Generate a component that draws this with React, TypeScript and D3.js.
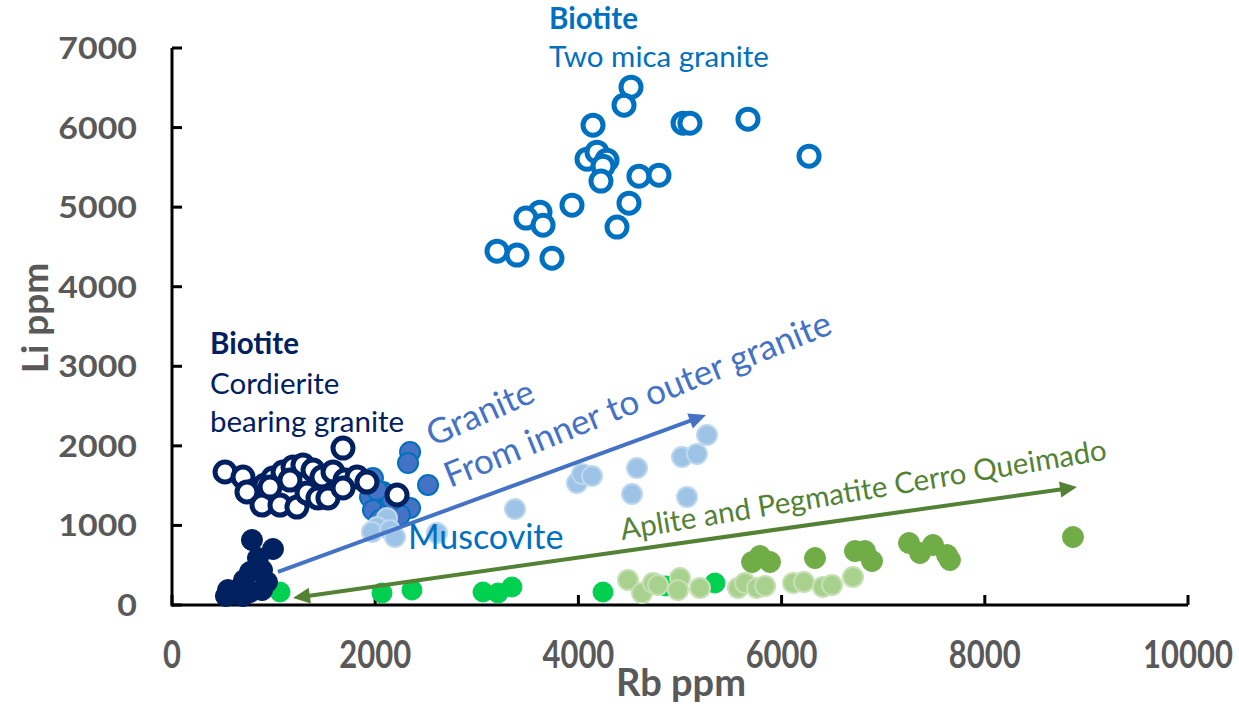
import React from "react";
import * as d3 from "d3";

// Rb (ppm), Li (ppm) pairs per mineral group
const biotiteTwoMica: [number, number][] = [
  [4518, 6508], [4449, 6281], [4144, 6030], [5030, 6055], [5098, 6055],
  [5669, 6106], [6270, 5641], [4085, 5603], [4183, 5691], [4281, 5590],
  [4242, 5515], [4222, 5327], [4596, 5389], [4793, 5402], [3937, 5025],
  [4498, 5050], [4380, 4749], [3622, 4937], [3484, 4862], [3652, 4774],
  [3199, 4447], [3396, 4397], [3740, 4359],
];

const biotiteCordierite: [number, number][] = [
  [1683, 1972], [522, 1671], [699, 1608], [817, 1445], [915, 1508],
  [994, 1595], [1093, 1671], [1191, 1734], [1289, 1759], [1388, 1696],
  [1476, 1608], [1585, 1671], [1703, 1570], [1821, 1608], [1919, 1545],
  [738, 1420], [886, 1256], [1063, 1256], [1230, 1231], [1329, 1407],
  [1437, 1344], [1535, 1344], [1683, 1470], [2215, 1382], [965, 1482],
  [1161, 1570],
];

const muscoviteCordierite: [number, number][] = [
  [787, 817], [994, 704], [846, 590], [886, 440], [768, 415],
  [709, 314], [935, 289], [669, 214], [551, 188], [620, 138],
  [768, 163], [886, 188], [531, 113], [699, 113],
];

const muscoviteInnerGranite: [number, number][] = [
  [2343, 1922], [2323, 1784], [2520, 1508], [1978, 1595], [1949, 1357],
  [2077, 1420], [2244, 1294], [2343, 1219], [1978, 1193], [2146, 1193],
  [2047, 1068], [2244, 1131], [2165, 1319], [2018, 1445],
];

const muscoviteOuterGranite: [number, number][] = [
  [2116, 1093], [2018, 980], [1968, 917], [2146, 942], [2195, 854],
  [2608, 905], [3376, 1206], [3986, 1533], [4035, 1646], [4134, 1621],
  [4577, 1721], [4528, 1394], [5020, 1859], [5167, 1897], [5266, 2136],
  [5069, 1357],
];

const apliteA: [number, number][] = [
  [1063, 163], [2067, 151], [2362, 188], [3061, 163], [3209, 151],
  [3346, 226], [4242, 163], [4862, 239], [5344, 276],
];

const apliteB: [number, number][] = [
  [4488, 314], [4626, 151], [4734, 276], [4783, 251], [5000, 339],
  [4980, 188], [5197, 214], [5571, 214], [5640, 276], [5758, 214],
  [5837, 239], [6112, 276], [6220, 289], [6407, 226], [6496, 251],
  [6703, 352],
];

const pegmatite: [number, number][] = [
  [5709, 540], [5787, 616], [5886, 540], [6329, 590], [6722, 678],
  [6821, 678], [6890, 553], [7254, 779], [7362, 653], [7490, 754],
  [7628, 628], [7657, 565], [8868, 854],
];

const xTicks = [0, 2000, 4000, 6000, 8000, 10000];
const yTicks = [0, 1000, 2000, 3000, 4000, 5000, 6000, 7000];

const W = 1239;
const H = 707;
const FONT = "Lato, Carlito, 'Open Sans', sans-serif";
const GREY = "#595959";

const x = d3.scaleLinear().domain([0, 10000]).range([172, 1188]);
const y = d3.scaleLinear().domain([0, 7000]).range([605, 48]);

type Style = { fill: string; stroke: string; sw: number; r: number };

const series: { data: [number, number][]; style: Style }[] = [
  { data: muscoviteInnerGranite, style: { fill: "#4472C4", stroke: "#0070C0", sw: 2, r: 10 } },
  { data: muscoviteOuterGranite, style: { fill: "#9DC3E6", stroke: "#BDD7EE", sw: 2, r: 10 } },
  { data: apliteA, style: { fill: "#00D050", stroke: "#00D050", sw: 1, r: 10 } },
  { data: apliteB, style: { fill: "#A9D18E", stroke: "#C5E0B4", sw: 2, r: 10 } },
  { data: pegmatite, style: { fill: "#70AD47", stroke: "#70AD47", sw: 1, r: 10.5 } },
  { data: muscoviteCordierite, style: { fill: "#002060", stroke: "#002060", sw: 1, r: 10.5 } },
  { data: biotiteCordierite, style: { fill: "#FFFFFF", stroke: "#002060", sw: 5, r: 10 } },
  { data: biotiteTwoMica, style: { fill: "#FFFFFF", stroke: "#0070C0", sw: 5, r: 10 } },
];

function Arrow({
  from, to, color, both,
}: { from: [number, number]; to: [number, number]; color: string; both?: boolean }) {
  const x1 = x(from[0]), y1 = y(from[1]), x2 = x(to[0]), y2 = y(to[1]);
  const ang = Math.atan2(y2 - y1, x2 - x1);
  const len = 17, half = 8;
  const head = (tx: number, ty: number, a: number) => {
    const bx = tx - len * Math.cos(a), by = ty - len * Math.sin(a);
    const px = -Math.sin(a) * half, py = Math.cos(a) * half;
    return `${tx},${ty} ${bx + px},${by + py} ${bx - px},${by - py}`;
  };
  const sx = both ? x1 + (len - 2) * Math.cos(ang) : x1;
  const sy = both ? y1 + (len - 2) * Math.sin(ang) : y1;
  const ex = x2 - (len - 2) * Math.cos(ang), ey = y2 - (len - 2) * Math.sin(ang);
  return (
    <g>
      <line x1={sx} y1={sy} x2={ex} y2={ey} stroke={color} strokeWidth={4} />
      <polygon points={head(x2, y2, ang)} fill={color} />
      {both && <polygon points={head(x1, y1, ang + Math.PI)} fill={color} />}
    </g>
  );
}

function RotText({
  at, angle, size, color, children,
}: { at: [number, number]; angle: number; size: number; color: string; children: string }) {
  const px = x(at[0]), py = y(at[1]);
  return (
    <text
      transform={`translate(${px},${py}) rotate(${angle})`}
      fontFamily={FONT}
      fontSize={size}
      fill={color}
    >
      {children}
    </text>
  );
}

export default function App() {
  return (
    <svg
      width={W}
      height={H}
      style={{ position: "absolute", left: 0, top: 0, background: "#fff" }}
    >
      <rect width={W} height={H} fill="#fff" />

      {/* axes */}
      <line x1={x(0)} y1={y(0)} x2={x(10000)} y2={y(0)} stroke="#000" strokeWidth={3} />
      <line x1={x(0)} y1={y(0) + 1.5} x2={x(0)} y2={y(7000)} stroke="#000" strokeWidth={3} />
      {xTicks.map((t) => (
        <g key={`xt${t}`}>
          <line x1={x(t)} x2={x(t)} y1={y(0)} y2={y(0) - 10} stroke="#000" strokeWidth={3} />
          <text
            transform={`translate(${x(t)},668) scale(1,1.2)`}
            textAnchor="middle"
            fontFamily={FONT}
            fontWeight="bold"
            fontSize={31}
            fill={GREY}
          >
            {t}
          </text>
        </g>
      ))}
      {yTicks.map((t) => (
        <g key={`yt${t}`}>
          <line x1={x(0)} x2={x(0) + 10} y1={y(t)} y2={y(t)} stroke="#000" strokeWidth={3} />
          <text
            transform={`translate(137,${y(t) + 11}) scale(1.13,1)`}
            textAnchor="end"
            fontFamily={FONT}
            fontWeight="bold"
            fontSize={30}
            fill={GREY}
          >
            {t}
          </text>
        </g>
      ))}

      {/* axis titles */}
      <text
        x={681}
        y={696}
        textAnchor="middle"
        fontFamily={FONT}
        fontWeight="bold"
        fontSize={38}
        fill={GREY}
      >
        Rb ppm
      </text>
      <text
        transform={`translate(48,318) rotate(-90)`}
        textAnchor="middle"
        fontFamily={FONT}
        fontWeight="bold"
        fontSize={37}
        fill={GREY}
      >
        Li ppm
      </text>

      {/* data points */}
      {series.map((s, i) => (
        <g key={`s${i}`}>
          {s.data.map(([rb, li], j) => (
            <circle
              key={j}
              cx={x(rb)}
              cy={y(li)}
              r={s.style.r}
              fill={s.style.fill}
              stroke={s.style.stroke}
              strokeWidth={s.style.sw}
            />
          ))}
        </g>
      ))}

      {/* trend arrows */}
      <Arrow from={[1043, 415]} to={[5256, 2387]} color="#4472C4" />
      <Arrow from={[1191, 88]} to={[8907, 1482]} color="#548235" both />

      {/* group labels */}
      <g fontFamily={FONT} fontSize={29.5}>
        <text x={x(3711)} y={29} fill="#0070C0" fontWeight="bold">Biotite</text>
        <text x={x(3711)} y={67} fill="#0070C0">Two mica granite</text>
        <text x={210} y={354} fill="#002060" fontWeight="bold">Biotite</text>
        <text x={210} y={394} fill="#002060">Cordierite</text>
        <text x={210} y={432} fill="#002060">bearing granite</text>
      </g>
      <text x={408} y={549} fill="#0070C0" fontFamily={FONT} fontSize={34}>Muscovite</text>

      <RotText at={[2569, 1985]} angle={-24} size={35} color="#4472C4">Granite</RotText>
      <RotText at={[2736, 1470]} angle={-22} size={35} color="#4472C4">From inner to outer granite</RotText>
      <RotText at={[4429, 817]} angle={-9.4} size={29.5} color="#548235">Aplite and Pegmatite Cerro Queimado</RotText>
    </svg>
  );
}
